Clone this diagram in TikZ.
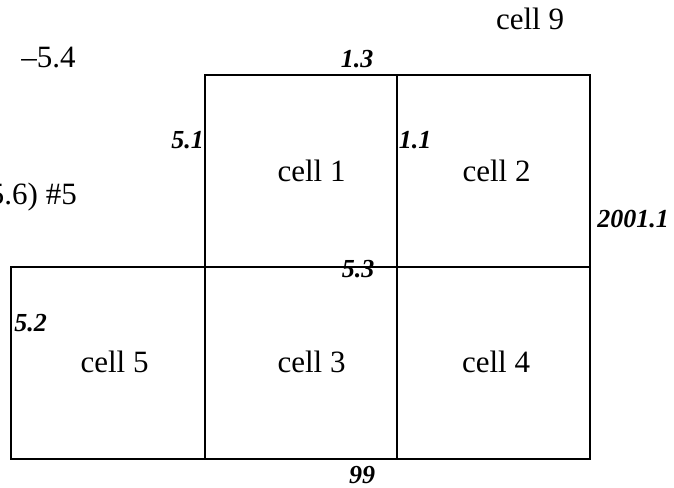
\documentclass[tikz,border=0pt]{standalone}
\usepackage{fontspec}
\setmainfont{Liberation Serif}
\begin{document}
\begin{tikzpicture}[x=1pt,y=-1pt,
  cellbox/.style={draw=black,line width=1.3pt,minimum width=193pt,minimum height=192pt,inner sep=0pt,outer sep=0pt},
  celltext/.style={anchor=base,inner sep=0pt,font=\fontsize{31}{36}\selectfont},
  lbl/.style={anchor=base,inner sep=0pt,font=\fontsize{26}{30}\selectfont\bfseries\itshape}]
\useasboundingbox (0,0) rectangle (674,487);
% cells
\node[cellbox,minimum width=194pt] (c5) at (108,363) {};
\node[cellbox,minimum width=192pt] (c3) at (301,363) {};
\node[cellbox] (c4) at (493.5,363) {};
\node[cellbox,minimum width=192pt] (c1) at (301,171) {};
\node[cellbox] (c2) at (493.5,171) {};
% cell texts
\node[celltext] (t1) at (311.5,181) {cell 1};
\node[celltext] (t2) at (496.5,181) {cell 2};
\node[celltext] (t5) at (114.5,372) {cell 5};
\node[celltext] (t3) at (311.5,372) {cell 3};
\node[celltext] (t4) at (496,372) {cell 4};
\node[celltext] (t9) at (530,30) {cell 9};
\node[celltext] (m54) at (48.5,67) {–5.4};
\node[celltext,anchor=base east] (m56) at (77,204) {5.6) \#5};
% labels
\node[lbl] (l13) at (357,67) {1.3};
\node[lbl] (l51) at (187.5,148) {5.1};
\node[lbl] (l11) at (415,148) {1.1};
\node[lbl] (l2001) at (633,227) {2001.1};
\node[lbl] (l53) at (358,277) {5.3};
\node[lbl] (l52) at (30.5,331) {5.2};
\node[lbl] (l99) at (362,483) {99};
\end{tikzpicture}
\end{document}
